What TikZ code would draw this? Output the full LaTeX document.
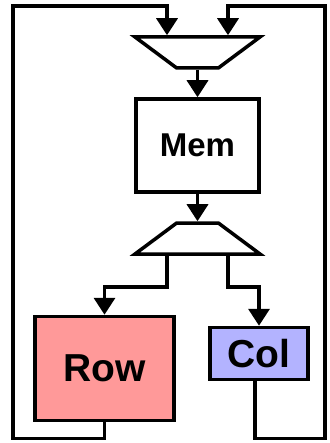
\documentclass[tikz,border=0pt]{standalone}
\usepackage{fontspec}
\setmainfont{Liberation Sans}
\usetikzlibrary{shapes.geometric, arrows.meta}
\definecolor{rowred}{RGB}{255,153,153}
\definecolor{colblue}{RGB}{179,179,255}
\tikzstyle{block} = [rectangle, draw=black, line width=3.5pt, inner sep=0pt, text centered]
\tikzstyle{trap} = [trapezium, trapezium stretches=true, trapezium angle=45, minimum width=125pt, minimum height=31pt, draw=black, line width=3.5pt, inner sep=2pt]
\tikzstyle{arrow} = [line width=3.5pt, -{Triangle[length=17pt,width=21pt]}]

\begin{document}
\begin{tikzpicture} [x=1pt, y=-1pt, node distance=93pt]
\useasboundingbox (0,0) rectangle (329,443);
\node (mux) [trap, shape border rotate=180] at (197.5,52.5) {};
\node (mem) [block, below of=mux, minimum width=123pt, minimum height=93pt, font=\fontsize{33}{33}\selectfont\bfseries] {Mem};
\node (demux) [trap, below of=mem] {};
\node (row) [block, fill=rowred, below of=demux, xshift=-93pt, yshift=-37pt, minimum width=139pt, minimum height=104pt, font=\fontsize{39}{39}\selectfont\bfseries] {Row};
\node (col) [block, fill=colblue, below of=demux, xshift=61.5pt, yshift=-22pt, minimum width=98pt, minimum height=52pt, font=\fontsize{39}{39}\selectfont\bfseries] {Col};
\coordinate (lt) at (13,6);
\coordinate (rt) at (325,6);

\draw [arrow] (mux.south) -- (mem.north);
\draw [arrow] (mem.south) -- (demux.north);
\draw [arrow] ([xshift=-30.5pt]demux.south) -- ++(0,31) -| (row.north);
\draw [arrow] ([xshift=30.5pt]demux.south) -- ++(0,31) -| (col.north);
\draw [arrow] (row.south) -- ++(0,16.2) -| (lt) -| ([xshift=-30.5pt]mux.north);
\draw [arrow] ([xshift=-4pt]col.south) -- ++(0,57.2) -| (rt) -| ([xshift=30.5pt]mux.north);
\end{tikzpicture}
\end{document}
